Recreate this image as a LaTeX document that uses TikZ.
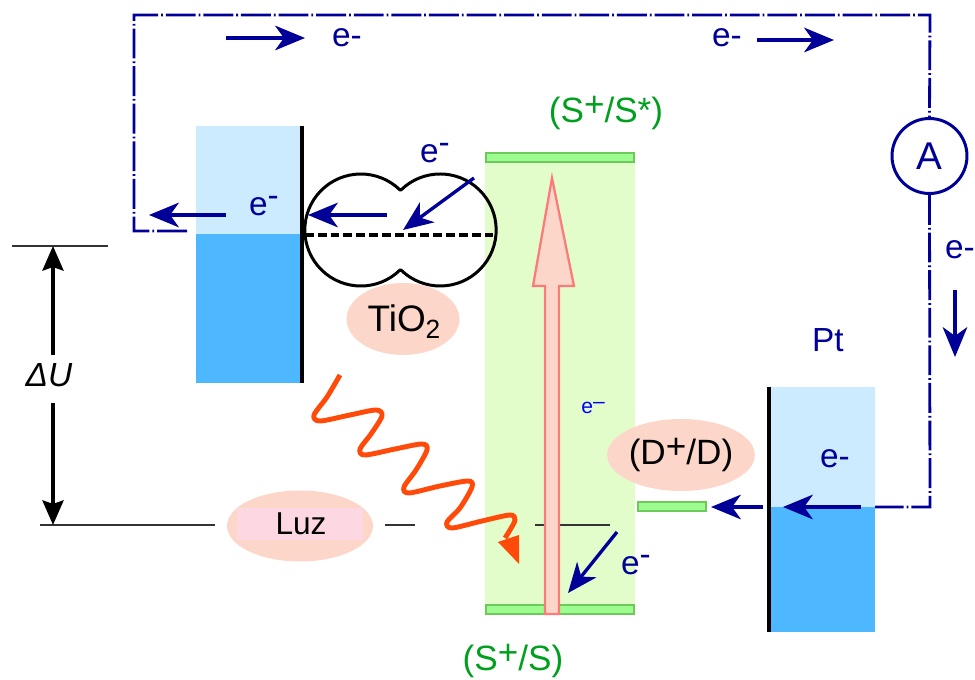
\documentclass[tikz,border=0pt]{standalone}
\usepackage{fontspec}
\setmainfont{Liberation Sans}
\usetikzlibrary{arrows.meta,shapes.geometric}
\definecolor{navy}{HTML}{000099}
\definecolor{lightblue}{HTML}{CDEBFF}
\definecolor{darkblue}{HTML}{4DB8FF}
\definecolor{bandgreen}{HTML}{E2FDC9}
\definecolor{barfill}{HTML}{9DFC8F}
\definecolor{bardraw}{HTML}{6CC95A}
\definecolor{peach}{HTML}{FDD6CA}
\definecolor{rosy}{HTML}{FDD8E2}
\definecolor{redline}{HTML}{FB7A7A}
\definecolor{flame}{HTML}{FF4A0A}
\definecolor{labelgreen}{HTML}{00A01E}
\tikzset{
  flow/.style={draw=navy,line width=1.9pt,-{Stealth[length=17pt,width=14pt,inset=5pt]}},
  wire/.style={draw=navy,line width=1.6pt,dash pattern=on 17pt off 1.7pt on 1pt off 1.7pt},
  level/.style={draw=black!80,line width=0.7pt},
  gap/.style={draw=black,line width=1.9pt,-{Stealth[length=14pt,width=12pt,inset=2pt]}},
  bar/.style={draw=bardraw,fill=barfill,line width=1pt},
  blob/.style={ellipse,fill=peach,inner sep=0pt},
  elec/.style={text=navy,font=\fontsize{19}{19}\selectfont,inner sep=0pt},
  redox/.style={text=labelgreen,font=\fontsize{20}{20}\selectfont,inner sep=0pt},
}
\newcommand{\upbar}{\raisebox{5pt}{-}}
\newcommand{\upplus}{\raisebox{3pt}{+}}
\begin{document}
\begin{tikzpicture}[x=0.02cm,y=0.02cm]
  \useasboundingbox (0,0) rectangle (975,680);
  % semiconductor electrode
  \fill[lightblue] (196,554) rectangle (302,446);
  \fill[darkblue] (196,446) rectangle (302,297);
  \draw[black,line width=1.8pt] (302,554) -- (302,297);
  % platinum electrode
  \fill[lightblue] (769,293) rectangle (875,173);
  \fill[darkblue] (769,173) rectangle (875,48);
  \draw[black,line width=1.8pt] (769,293) -- (769,48);
  % dye band
  \fill[bandgreen] (485,524) rectangle (635,70);
  \draw[bar] (486,527) rectangle (634,518);
  \draw[bar] (486,75) rectangle (634,66);
  \draw[bar] (638,178) rectangle (706,169);
  % reference levels
  \coordinate (topa) at (12,434);
  \coordinate (topb) at (108,434);
  \coordinate (lowa) at (40,155);
  \coordinate (lowb) at (215,155);
  \coordinate (lowc) at (385,155);
  \coordinate (lowd) at (415,155);
  \coordinate (lowe) at (535,155);
  \coordinate (lowf) at (610,155);
  \draw[level] (topa) -- (topb);
  \draw[level] (lowa) -- (lowb);
  \draw[level] (lowc) -- (lowd);
  \draw[level] (lowe) -- (lowf);
  % excitation arrow
  \draw[draw=redline,fill=peach,line width=1.3pt] (545,66) -- (545,394) -- (533,394) -- (552,502) -- (574,394) -- (559,394) -- (559,66) -- cycle;
  % TiO2 particles
  \draw[black,line width=1.7pt,line join=round] (400,490) arc[start angle=45.6,end angle=314.4,radius=56] -- (401,410) arc[start angle=225.6,end angle=494.4,radius=56] -- cycle;
  \coordinate (midl) at (305,445);
  \coordinate (midr) at (495,445);
  \draw[black,line width=1.8pt,dash pattern=on 5pt off 2.3pt] (midl) -- (midr);
  % blobs
  \node[blob,minimum width=2.26cm,minimum height=1.44cm] (tio) at (403,361) {};
  \node[font=\fontsize{21}{21}\selectfont,inner sep=0pt] (tiotext) at (404,358) {TiO\raisebox{-4pt}{\fontsize{15}{15}\selectfont 2}};
  \node[blob,minimum width=2.92cm,minimum height=1.42cm] (luzblob) at (300,154) {};
  \fill[rosy] (237,172) rectangle (363,140);
  \node[font=\fontsize{18}{18}\selectfont,inner sep=0pt] (luz) at (301,156) {Luz};
  \node[blob,minimum width=2.92cm,minimum height=1.44cm,font=\fontsize{20}{20}\selectfont] (donor) at (681,225) {(D\upplus/D)};
  % light
  \draw[flame,line width=2.8pt] plot[smooth,tension=0.5] coordinates {(340,305) (327,283) (314,265) (320,259) (350,265) (376,270) (382,264) (371,246) (360,231) (365,225) (395,231) (422,236) (427,230) (416,210) (404,193) (409,187) (440,194) (468,199) (472,193) (460,172) (447,158) (452,152) (482,159) (510,165) (515,160) (510,150) (505,142)};
  \fill[flame] (498,138) -- (519,145) -- (519,116) -- cycle;
  % circuit
  \node[circle,draw=navy,line width=1.7pt,minimum size=1.5cm,text=navy,font=\fontsize{22}{22}\selectfont,inner sep=0pt] (A) at (929.5,524) {A};
  \coordinate (wa) at (187,449);
  \coordinate (wb) at (134,449);
  \coordinate (wc) at (134,665);
  \coordinate (wd) at (930,665);
  \coordinate (we) at (930,173);
  \coordinate (wf) at (875,173);
  \draw[wire] (wa) -- (wb) -- (wc) -- (wd) -- (A.north);
  \draw[wire] (A.south) -- (we) -- (wf);
  % electron flow
  \coordinate (fa) at (226,642);
  \coordinate (fb) at (305,642);
  \coordinate (fc) at (757,640);
  \coordinate (fd) at (834,640);
  \coordinate (fe) at (226,465);
  \coordinate (ff) at (149,465);
  \coordinate (fg) at (387,465);
  \coordinate (fh) at (308,465);
  \coordinate (fi) at (474,502);
  \coordinate (fj) at (403,450);
  \coordinate (fk) at (955,390);
  \coordinate (fl) at (955,323);
  \coordinate (fm) at (763,173);
  \coordinate (fn) at (711,173);
  \coordinate (fo) at (861,173);
  \coordinate (fp) at (783,173);
  \coordinate (fq) at (617,148);
  \coordinate (fr) at (568,87);
  \draw[flow] (fa) -- (fb);
  \draw[flow] (fc) -- (fd);
  \draw[flow] (fe) -- (ff);
  \draw[flow] (fg) -- (fh);
  \draw[flow] (fi) -- (fj);
  \draw[flow] (fk) -- (fl);
  \draw[flow] (fm) -- (fn);
  \draw[flow] (fo) -- (fp);
  \draw[flow] (fq) -- (fr);
  % potential difference
  \node[font=\itshape\fontsize{19}{19}\selectfont,inner sep=0pt] (dU) at (49,305) {ΔU};
  \coordinate (ua) at (53,434);
  \coordinate (ub) at (53,155);
  \draw[gap] (53,325) -- (ua);
  \draw[gap] (53,277) -- (ub);
  % labels
  \node[elec] (e1) at (347,642) {e-};
  \node[elec] (e2) at (727,642) {e-};
  \node[elec] (e3) at (264,474) {e\upbar};
  \node[elec] (e4) at (435,527) {e\upbar};
  \node[elec] (e5) at (960,430) {e-};
  \node[elec] (e6) at (835,221) {e-};
  \node[elec] (e7) at (636,115) {e\upbar};
  \node[elec] (pt) at (828,340) {Pt};
  \node[text=blue,font=\fontsize{12}{12}\selectfont,inner sep=0pt] (e8) at (593,272) {e\raisebox{3pt}{–}};
  \node[redox] (sstar) at (606,567) {(S\upplus/S*)};
  \node[redox] (sground) at (513,19) {(S\upplus/S)};
\end{tikzpicture}
\end{document}
